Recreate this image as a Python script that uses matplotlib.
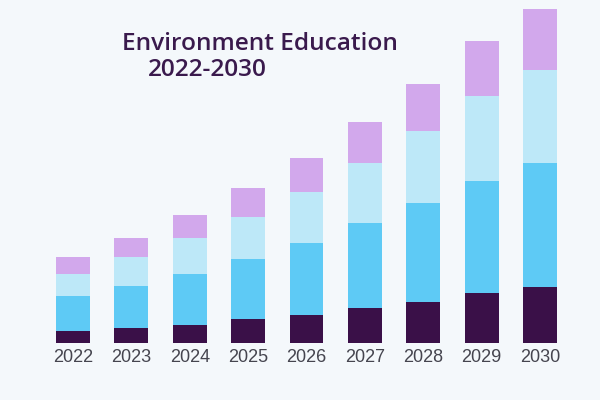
import matplotlib.pyplot as plt
import numpy as np

years = ['2022', '2023', '2024', '2025', '2026', '2027', '2028', '2029', '2030']
# segment heights, bottom to top
seg_dark = [12, 15, 18, 24, 28, 35, 41, 50, 56]
seg_mid = [35, 42, 51, 60, 72, 85, 99, 112, 124]
seg_light = [22, 29, 36, 42, 51, 60, 72, 85, 93]
seg_purple = [17, 19, 23, 29, 34, 41, 47, 55, 61]

colors = ['#3a1048', '#5ecaf5', '#bde8f8', '#d2a8ec']
bg = '#f4f8fb'

fig = plt.figure(figsize=(6, 4), dpi=100)
fig.patch.set_facecolor(bg)
ax = fig.add_axes([0, 57 / 400, 1, 343 / 400])
ax.set_facecolor(bg)

x = np.arange(len(years))
bottom = np.zeros(len(years))
for vals, c in zip([seg_dark, seg_mid, seg_light, seg_purple], colors):
    ax.bar(x, vals, bottom=bottom, width=0.58, color=c, edgecolor='none')
    bottom += np.array(vals)

ax.set_xlim(-1.2505, 9.028)
ax.set_ylim(0, 343)
ax.set_xticks(x)
ax.set_xticklabels(years, fontsize=13, color='#45454f', family='Liberation Sans')
ax.tick_params(axis='x', length=0, pad=4)
ax.set_yticks([])
for s in ax.spines.values():
    s.set_visible(False)

fig.text(122 / 600, 1 - 50 / 400, 'Environment Education', fontsize=17.6,
         fontweight='semibold', family='Open Sans', color='#3a1a4d', va='baseline')
fig.text(148 / 600, 1 - 76 / 400, '2022-2030', fontsize=17.6,
         fontweight='semibold', family='Open Sans', color='#3a1a4d', va='baseline')

fig.savefig('out.png', dpi=100, facecolor=bg)
